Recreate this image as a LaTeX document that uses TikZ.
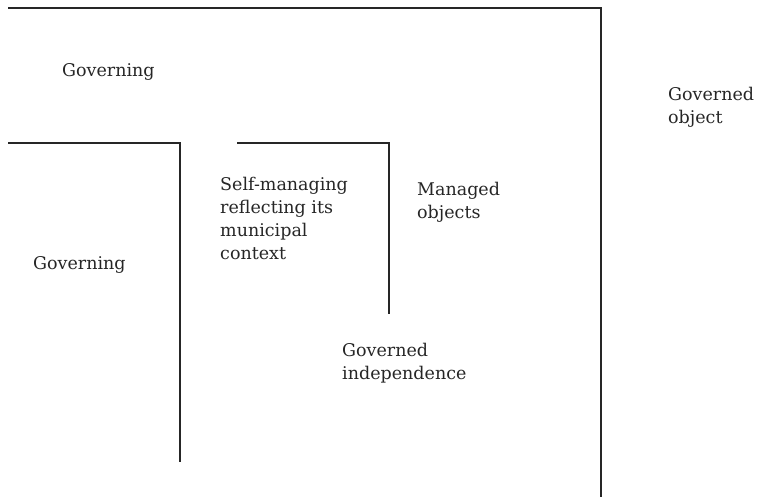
\documentclass[tikz,border=0pt]{standalone}
\usepackage{fontspec}
\setmainfont{DejaVu Serif}
\tikzset{
  lbl/.style={anchor=base west, inner sep=0pt, align=left, font=\fontsize{17.5pt}{23pt}\selectfont, text=black!85},
  frame/.style={line width=1.1pt, draw=black!85}
}
\begin{document}
\begin{tikzpicture}[x=1pt,y=-1pt]
\useasboundingbox (0,0) rectangle (760,500);
\coordinate (a1) at (8,8);
\coordinate (a2) at (601,8);
\coordinate (a3) at (601,497);
\coordinate (b1) at (8,143);
\coordinate (b2) at (180,143);
\coordinate (b3) at (180,462);
\coordinate (c1) at (237,143);
\coordinate (c2) at (389,143);
\coordinate (c3) at (389,314);
\draw[frame] (a1) -- (a2) -- (a3);
\draw[frame] (b1) -- (b2) -- (b3);
\draw[frame] (c1) -- (c2) -- (c3);
\node[lbl] (g1) at (62,77) {Governing};
\node[lbl] (g2) at (33,269) {Governing};
\node[lbl] (go) at (668,124) {Governed\\object};
\node[lbl] (sm) at (220,259) {Self-managing\\reflecting its\\municipal\\context};
\node[lbl] (mo) at (417,218) {Managed\\objects};
\node[lbl] (gi) at (342,379) {Governed\\independence};
\end{tikzpicture}
\end{document}
